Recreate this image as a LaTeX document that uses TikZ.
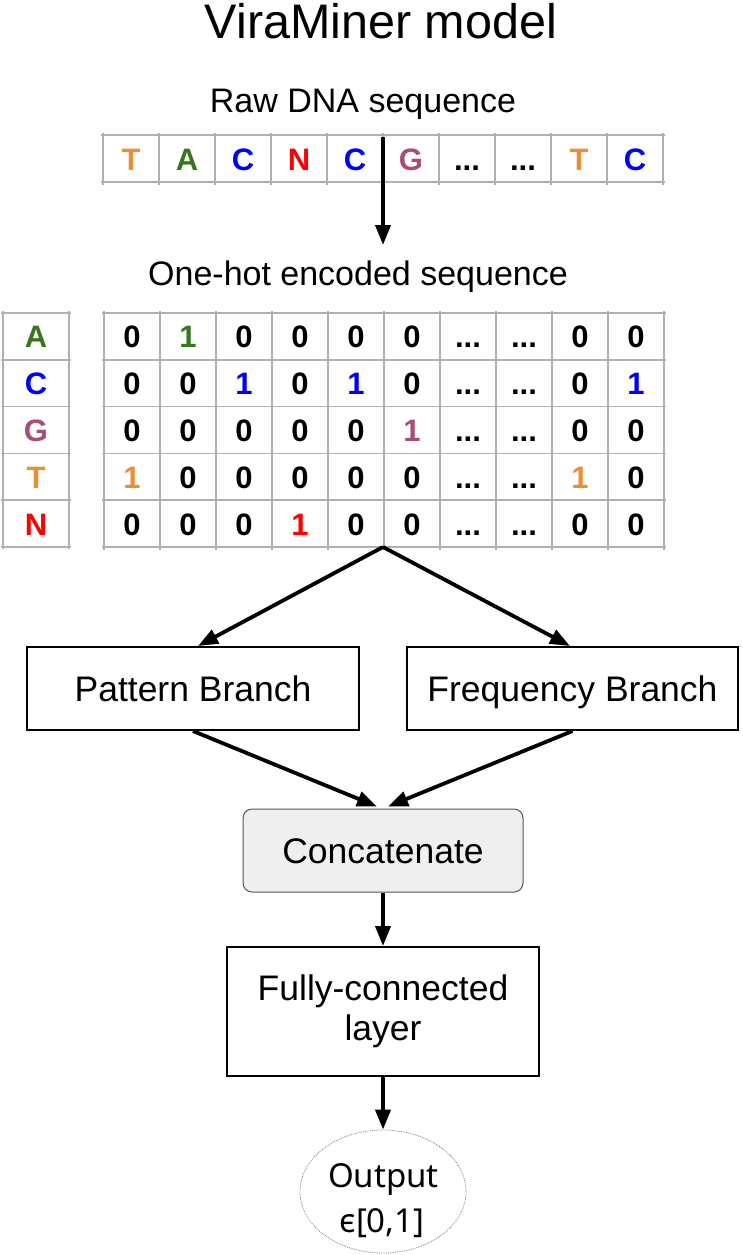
\documentclass[tikz,border=0pt]{standalone}
\usepackage{fontspec}
\setmainfont{Liberation Sans}
\newfontfamily\outfont{Noto Sans}
\usetikzlibrary{arrows.meta,shapes.geometric}
\definecolor{cT}{HTML}{E69138}
\definecolor{cA}{HTML}{38761D}
\definecolor{cC}{HTML}{0000FF}
\definecolor{cN}{HTML}{FF0000}
\definecolor{cG}{HTML}{A64D79}
\definecolor{gridgray}{HTML}{B0B0B0}
\definecolor{catfill}{HTML}{EFEFEF}
\definecolor{catdraw}{HTML}{555555}
\newcommand\mydots{...}
\begin{document}
\begin{tikzpicture}[x=1pt,y=-1pt,
  gridline/.style={gridgray, line width=1.5pt},
  cell/.style={font=\fontsize{31}{33}\selectfont\bfseries, anchor=base, inner sep=0pt},
  heading/.style={font=\fontsize{34}{38}\selectfont, anchor=base, inner sep=0pt},
  titletext/.style={font=\fontsize{48.5}{52}\selectfont, anchor=base, inner sep=0pt},
  block/.style={draw, line width=2pt, font=\fontsize{35.5}{42}\selectfont, align=center, inner sep=0pt},
  singleline/.style={text height=25.4pt, text depth=0pt},
  catblock/.style={block, draw=catdraw, line width=1pt, fill=catfill, rounded corners=9pt},
  arrow/.style={line width=3.8pt, -{Triangle[length=20pt,width=15pt]}},
  outtext/.style={font=\outfont\fontsize{33}{36}\selectfont, anchor=base, inner sep=0pt},
]
\useasboundingbox (0,0) rectangle (742,1255);

% headings
\node[titletext] (title) at (381,39) {ViraMiner model};
\node[heading] (rawhead) at (363,112) {Raw DNA sequence};
\node[heading] (hothead) at (358,285) {One-hot encoded sequence};

% raw sequence grid
\foreach \i in {0,...,10} \draw[gridline] (103+56*\i,132.5) -- (103+56*\i,184.5);
\foreach \y in {135,182} \draw[gridline] (101,\y) -- (665,\y);
\foreach \t/\c [count=\i] in {T/cT,A/cA,C/cC,N/cN,C/cC,G/cG,\mydots/black,\mydots/black,T/cT,C/cC}
  \node[cell, text=\c] (raw-\i) at (75+56*\i,170) {\t};

% label column
\foreach \x in {3,69} \draw[gridline] (\x,311) -- (\x,549);
\foreach \j in {0,...,5} \draw[gridline] (1,313+46.8*\j) -- (71,313+46.8*\j);
\foreach \t/\c [count=\j] in {A/cA,C/cC,G/cG,T/cT,N/cN}
  \node[cell, text=\c] (lab-\j) at (36,301+46.8*\j) {\t};

% one-hot grid
\foreach \i in {0,...,10} \draw[gridline] (104+56*\i,310.5) -- (104+56*\i,549.5);
\foreach \j in {0,...,5} \draw[gridline] (102,313+46.8*\j) -- (666,313+46.8*\j);
\foreach \row [count=\j] in {
  {0/black,1/cA,0/black,0/black,0/black,0/black,\mydots/black,\mydots/black,0/black,0/black},
  {0/black,0/black,1/cC,0/black,1/cC,0/black,\mydots/black,\mydots/black,0/black,1/cC},
  {0/black,0/black,0/black,0/black,0/black,1/cG,\mydots/black,\mydots/black,0/black,0/black},
  {1/cT,0/black,0/black,0/black,0/black,0/black,\mydots/black,\mydots/black,1/cT,0/black},
  {0/black,0/black,0/black,1/cN,0/black,0/black,\mydots/black,\mydots/black,0/black,0/black}}
  \foreach \t/\c [count=\i] in \row
    \node[cell, text=\c] (hot-\j-\i) at (76+56*\i,301+46.8*\j) {\t};

% blocks
\node[block, singleline, minimum width=332pt, minimum height=83pt] (pat) at (193,688.5) {Pattern Branch};
\node[block, singleline, minimum width=331pt, minimum height=83pt] (freq) at (572.5,688.5) {Frequency Branch};
\node[catblock, singleline, minimum width=280pt, minimum height=83pt] (cat) at (383,850.5) {Concatenate};
\node[block, minimum width=312pt, minimum height=129pt] (fc) at (383,1011.5) {Fully-connected\\[-1.5pt]layer};
\node[ellipse, draw=gray, densely dotted, line width=0.8pt, minimum width=166pt, minimum height=123pt, inner sep=0pt] (out) at (383,1191.5) {};
\node[outtext] (outA) at (383.5,1187) {Output};
\node[outtext] (outB) at (382,1232) {ϵ[0,1]};

% connectors
\coordinate (rawtap) at (383,137);
\coordinate (hotin) at (383,245);
\coordinate (gridbot) at (383,547);
\draw[arrow] (rawtap) -- (hotin);
\draw[arrow] (gridbot) -- ([xshift=5pt]pat.north);
\draw[arrow] (gridbot) -- ([xshift=-2.5pt]freq.north);
\draw[arrow] (pat.south) -- ([xshift=-6pt,yshift=2pt]cat.north);
\draw[arrow] (freq.south) -- ([xshift=5pt,yshift=2pt]cat.north);
\draw[arrow] (cat.south) -- (fc.north);
\draw[arrow] (fc.south) -- (out.north);
\end{tikzpicture}
\end{document}
